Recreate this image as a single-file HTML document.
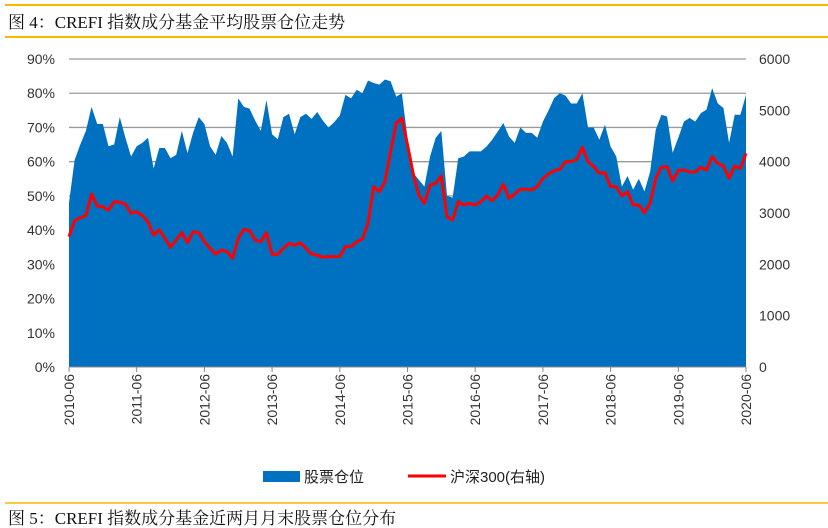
<!DOCTYPE html>
<html><head><meta charset="utf-8">
<style>
html,body{margin:0;padding:0;background:#fff;}
#wrap{position:relative;width:828px;height:528px;overflow:hidden;}
svg{position:absolute;left:0;top:0;}
</style></head>
<body>
<div id="wrap">
<svg id="chart" width="828" height="528">
  <line x1="5" y1="5" x2="828" y2="5" stroke="#f5b800" stroke-width="2"/>
  <text x="8" y="28" font-family="'Liberation Serif','Noto Serif CJK SC',serif" font-size="17" fill="#111">图 4：CREFI 指数成分基金平均股票仓位走势</text>
  <line x1="5" y1="37" x2="828" y2="37" stroke="#f5b800" stroke-width="2"/>
  <g id="grid"></g>
  <g id="area"></g>
  <g id="axes"></g>
  <g>
    <rect x="263" y="471" width="37" height="11" fill="#0070c0"/>
    <text x="304" y="482" font-family="'Liberation Sans','Noto Sans CJK SC',sans-serif" font-size="15" fill="#222">股票仓位</text>
    <line x1="408" y1="476" x2="446" y2="476" stroke="#ff0000" stroke-width="3"/>
    <text x="450" y="482" font-family="'Liberation Sans','Noto Sans CJK SC',sans-serif" font-size="15" fill="#222">沪深300(右轴)</text>
  </g>
  <line x1="5" y1="503" x2="828" y2="503" stroke="#f5b800" stroke-width="1.5"/>
  <text x="8" y="524" font-family="'Liberation Serif','Noto Serif CJK SC',serif" font-size="17" fill="#111">图 5：CREFI 指数成分基金近两月月末股票仓位分布</text>
</svg>
</div>
<script>
const yearLabels = ["2010-06","2011-06","2012-06","2013-06","2014-06","2015-06","2016-06","2017-06","2018-06","2019-06","2020-06"];
const leftTicks = ["0%","10%","20%","30%","40%","50%","60%","70%","80%","90%"];
const rightTicks = ["0","1000","2000","3000","4000","5000","6000"];
const stockPosition = [48,60.5,65,69,76,71,71,64.5,65,73,67,61.5,64.5,65.5,67,58,64,64,61,62,69,62.5,68.5,73,71,64.5,62,67.5,65.5,61.5,78.5,76,75.5,72,69,78,68,66.5,73,74,68,73,74,72.5,74.5,72,70,71.5,73.5,79.5,78.5,81,80,83.7,83,82.5,84,83.5,79,80,67,56.7,54.7,52.7,61.5,67,69,50,49.5,61,61.5,63,63,63,64.4,66.4,68.8,71.3,67.3,65.5,70,68.4,68.4,67,71.7,75,78.6,80,79.3,77,77,80,70,70,66.4,70.8,64.4,61.5,52.7,55.8,51.8,55,51.3,57,69.3,73.7,73.2,62.6,67,71.7,72.8,71.7,74.2,75.2,81.5,77,75.7,65.5,73.7,73.7,79.5];
const hs300 = [2538,2850,2910,2950,3370,3137,3120,3058,3220,3210,3175,2994,3025,2950,2830,2570,2670,2507,2332,2474,2616,2422,2636,2616,2441,2312,2200,2280,2248,2118,2507,2682,2655,2474,2441,2616,2195,2195,2312,2410,2370,2422,2312,2200,2180,2137,2150,2150,2150,2344,2344,2441,2493,2798,3513,3415,3610,4195,4748,4845,4330,3773,3351,3189,3546,3578,3721,2928,2864,3221,3156,3189,3156,3221,3331,3240,3351,3559,3286,3370,3462,3462,3449,3513,3676,3760,3825,3851,4000,4000,4045,4280,4000,3903,3773,3786,3513,3513,3331,3415,3156,3156,3006,3189,3676,3890,3903,3624,3825,3838,3799,3799,3890,3838,4097,3968,3916,3676,3916,3870,4163];

const NS = "http://www.w3.org/2000/svg";
const X0 = 69, X1 = 746, Y0 = 367, YTOP = 59;
const xScale = i => X0 + (X1 - X0) * i / (stockPosition.length - 1);
const yLeft = v => Y0 - (Y0 - YTOP) * v / 90;
const yRight = v => Y0 - (Y0 - YTOP) * v / 6000;
function mk(tag, attrs, parent){ const e = document.createElementNS(NS, tag); for (const k in attrs) e.setAttribute(k, attrs[k]); parent.appendChild(e); return e; }

const grid = document.getElementById('grid');
leftTicks.forEach((t, i) => {
  if (i === 0) return;
  const y = yLeft(i * 10);
  const l = mk('line', {x1: X0, x2: X1, y1: y, y2: y, stroke: '#9a9a9a', 'stroke-width': 1.3}, grid);
  
  
});

const area = document.getElementById('area');
let d = 'M' + xScale(0) + ',' + Y0;
stockPosition.forEach((v, i) => { d += ' L' + xScale(i).toFixed(2) + ',' + yLeft(v).toFixed(2); });
d += ' L' + xScale(stockPosition.length - 1) + ',' + Y0 + ' Z';
const ap = mk('path', {d: d, fill: '#0070c0'}, area);



let ld = '';
hs300.forEach((v, i) => { ld += (i ? ' L' : 'M') + xScale(i).toFixed(2) + ',' + yRight(v).toFixed(2); });
const lp = mk('path', {d: ld, fill: 'none', stroke: '#ff0000', 'stroke-width': 3, 'stroke-linejoin': 'round'}, area);



const axes = document.getElementById('axes');
const ax = mk('line', {x1: X0, x2: X1, y1: Y0, y2: Y0, stroke: '#888', 'stroke-width': 1}, axes);


const font = "'Liberation Sans',sans-serif";
leftTicks.forEach((t, i) => {
  const tx = mk('text', {x: 55, y: yLeft(i * 10) + 5, 'text-anchor': 'end', 'font-family': font, 'font-size': 14, fill: '#333'}, axes);
  tx.textContent = t;
  
  
});
rightTicks.forEach((t, i) => {
  const tx = mk('text', {x: 759, y: yRight(i * 1000) + 5, 'font-family': font, 'font-size': 14, fill: '#333'}, axes);
  tx.textContent = t;
  
  
});
yearLabels.forEach((t, i) => {
  const x = xScale(i * 12);
  const tk = mk('line', {x1: x, x2: x, y1: Y0, y2: Y0 + 5, stroke: '#888'}, axes);
  
  
  const tx = mk('text', {x: 0, y: 0, 'text-anchor': 'end', 'font-family': font, 'font-size': 14, fill: '#333', transform: 'translate(' + (x + 5) + ',' + (Y0 + 7) + ') rotate(-90)'}, axes);
  tx.textContent = t;
  
  
});
</script>
</body></html>
